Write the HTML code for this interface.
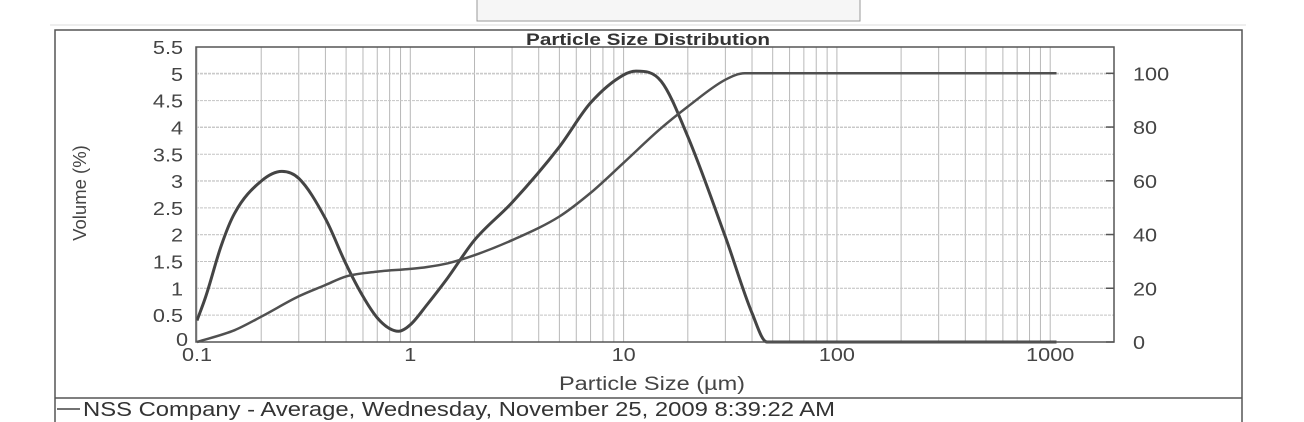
<!DOCTYPE html>
<html><head><meta charset="utf-8"><style>
html,body{margin:0;padding:0;background:#fff;}
svg{display:block;font-family:"Liberation Sans",sans-serif;}
</style></head><body>
<svg id="chart" width="1304" height="422" viewBox="0 0 1304 422">
<rect x="477" y="-2" width="383" height="23" fill="#f6f6f6" stroke="#999" stroke-width="1"/>
<line x1="50" y1="25" x2="1246" y2="25" stroke="#ddd" stroke-width="1"/>
<rect x="55" y="30" width="1187" height="400" fill="none" stroke="#555" stroke-width="1.5"/>
<line x1="55" y1="398" x2="1242" y2="398" stroke="#555" stroke-width="1.5"/>
<text x="526" y="45" textLength="244" lengthAdjust="spacingAndGlyphs" font-size="16.5" font-weight="bold" fill="#333">Particle Size Distribution</text>
<g id="grid"></g>
<g id="curves"></g>
<rect x="196" y="47" width="918" height="295" fill="none" stroke="#555" stroke-width="1.5"/>
<g id="axes"></g>
<text transform="translate(86,193) rotate(-90)" text-anchor="middle" font-size="18.5" fill="#444">Volume (%)</text>
<text x="559" y="390" textLength="186" lengthAdjust="spacingAndGlyphs" font-size="19" fill="#444">Particle Size (µm)</text>
<line x1="57" y1="409" x2="80" y2="409" stroke="#444" stroke-width="1.5"/>
<text x="83" y="416" textLength="752" lengthAdjust="spacingAndGlyphs" font-size="20" fill="#333">NSS Company - Average, Wednesday, November 25, 2009 8:39:22 AM</text>
</svg>
<script>
const sizes = [0.1,0.11,0.13,0.15,0.2,0.25,0.3,0.4,0.5,0.6,0.7,0.8,0.88,1.0,1.2,1.5,2,3,5,7,10,11.5,15,20,30,40,47,100,1070];
const volume = [0.4,0.85,1.8,2.4,3.0,3.18,3.05,2.3,1.45,0.85,0.45,0.25,0.2,0.32,0.7,1.2,1.9,2.6,3.64,4.46,4.98,5.05,4.86,3.83,1.96,0.54,0,0,0];
const cumSizes = [0.1,0.15,0.2,0.3,0.4,0.5,0.7,1,1.2,1.5,2,3,5,7,10,15,20,30,37,1070];
const cumulative = [0,4.4,9.4,17,21.2,24.4,26.2,27.2,27.9,29.3,32.3,37.9,46.7,55.5,66.7,79.6,87.6,97.6,100,100];
const xTicks = [0.1,1,10,100,1000];
const xTickLabels = ["0.1","1","10","100","1000"];
const yTicks = [0,0.5,1,1.5,2,2.5,3,3.5,4,4.5,5,5.5];
const yTickLabels = ["0","0.5","1","1.5","2","2.5","3","3.5","4","4.5","5","5.5"];
const y2Ticks = [0,20,40,60,80,100];
const y2TickLabels = ["0","20","40","60","80","100"];

const NS="http://www.w3.org/2000/svg";
const L=196,R=1114,T=47,B=342;
const xs=s=>197+213.3*Math.log10(s/0.1);
const ys=v=>B-v*(B-T)/5.5;
const y2=p=>B-p*(B-73.3)/100;
function mk(tag,attrs,parent){const e=document.createElementNS(NS,tag);for(const k in attrs)e.setAttribute(k,attrs[k]);parent.appendChild(e);return e;}
const grid=document.getElementById('grid'),axes=document.getElementById('axes'),curves=document.getElementById('curves');
for(let d=0.1;d<=1000;d*=10){for(let m=1;m<=9;m++){const s=d*m;const x=xs(s);if(x>R)continue;
 const l=mk('line',{x1:x,x2:x,y1:T,y2:B,stroke:'#b8b8b8','stroke-width':1},grid);
 
 }}
yTicks.forEach(v=>{const y=ys(v);
 const l=mk('line',{x1:L,x2:R,y1:y,y2:y,stroke:'#c4c4c4','stroke-width':1,'stroke-dasharray':'3,1'},grid);
 
 });
y2Ticks.forEach(v=>{const y=y2(v);
 const l=mk('line',{x1:L,x2:R,y1:y,y2:y,stroke:'#ccc','stroke-width':1,'stroke-dasharray':'3,1'},grid);
 
 });
function stretched(x,y,anchor,label,fs){
 const t=mk('text',{transform:`translate(${x},${y}) scale(1.17,1)`,'text-anchor':anchor,'font-size':fs,fill:'#444'},axes);
 t.textContent=label;return t;}
xTicks.forEach((s,i)=>{const t=stretched(xs(s),361,'middle',xTickLabels[i],18.5);
 
 });
yTicks.forEach((v,i)=>{const t=stretched(i===0?188:183,ys(v)+(i===0?4:7),'end',yTickLabels[i],18.5);
 
 });
y2Ticks.forEach((v,i)=>{const y=y2(v);mk('line',{x1:R-8,x2:R,y1:y,y2:y,stroke:'#555','stroke-width':1.5},axes);
 const t=stretched(1133,y+7,'start',y2TickLabels[i],18.5);
 
 });
// monotone cubic (Fritsch-Carlson) in pixel space
function path(xsArr,vals,fy){
 const X=xsArr.map(xs),Y=vals.map(fy),n=X.length;
 const dl=[],m=new Array(n);
 for(let i=0;i<n-1;i++)dl.push((Y[i+1]-Y[i])/(X[i+1]-X[i]));
 m[0]=dl[0];m[n-1]=dl[n-2];
 for(let i=1;i<n-1;i++){m[i]=(dl[i-1]*dl[i]<=0)?0:(dl[i-1]+dl[i])/2;}
 for(let i=0;i<n-1;i++){if(dl[i]===0){m[i]=0;m[i+1]=0;continue;}
  const a=m[i]/dl[i],b=m[i+1]/dl[i],s=a*a+b*b;
  if(s>9){const t=3/Math.sqrt(s);m[i]=t*a*dl[i];m[i+1]=t*b*dl[i];}}
 let d='M'+X[0].toFixed(1)+','+Y[0].toFixed(1);
 for(let i=0;i<n-1;i++){const h=(X[i+1]-X[i])/3;
  d+=` C${(X[i]+h).toFixed(1)},${(Y[i]+m[i]*h).toFixed(1)} ${(X[i+1]-h).toFixed(1)},${(Y[i+1]-m[i+1]*h).toFixed(1)} ${X[i+1].toFixed(1)},${Y[i+1].toFixed(1)}`;}
 return d;}
const p1=mk('path',{d:path(sizes,volume,ys),fill:'none',stroke:'#444','stroke-width':3,'stroke-linejoin':'round'},curves);


const p2=mk('path',{d:path(cumSizes,cumulative,y2),fill:'none',stroke:'#505050','stroke-width':2.5,'stroke-linejoin':'round'},curves);


</script>
</body></html>
